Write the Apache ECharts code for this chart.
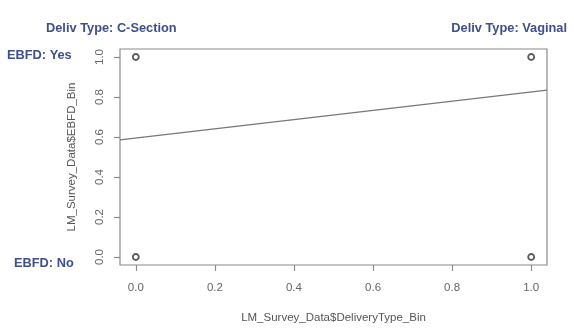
<!DOCTYPE html>
<html><head><meta charset="utf-8">
<script src="https://cdn.jsdelivr.net/npm/echarts@6/dist/echarts.min.js"></script>
<style>html,body{margin:0;padding:0;background:#fff}#c{width:574px;height:333px}</style>
</head><body><div id="c"></div>
<script>
// Data
const xTicks = [0, 0.2, 0.4, 0.6, 0.8, 1.0];
const yTicks = [0, 0.2, 0.4, 0.6, 0.8, 1.0];
const pointsX = [0, 0, 1, 1];
const pointsY = [1, 0, 1, 0];
const fitLineX = [-0.04, 1.04];
const fitLineY = [0.586, 0.834];
const xTitle = 'LM_Survey_Data$DeliveryType_Bin';
const yTitle = 'LM_Survey_Data$EBFD_Bin';
const annotations = ['Deliv Type: C-Section', 'Deliv Type: Vaginal', 'EBFD: Yes', 'EBFD: No'];

const chart = echarts.init(document.getElementById('c'), null, {renderer: 'canvas'});
const font = 'Liberation Sans, Arial, sans-serif';
const blue = '#3f4f8e';
chart.setOption({
  animation: false,
  backgroundColor: '#fff',
  grid: {left: 120, top: 49, right: 27, bottom: 68, show: true, borderColor: '#8a8a8a', borderWidth: 1.2, backgroundColor: 'transparent'},
  xAxis: {
    type: 'value', min: -0.04, max: 1.04,
    name: xTitle, nameLocation: 'middle', nameGap: 47,
    nameTextStyle: {fontFamily: font, fontSize: 11.5, color: '#555'},
    axisLine: {show: false, onZero: false},
    splitLine: {show: false},
    axisTick: {show: true, length: 6, inside: false, customValues: xTicks, lineStyle: {color: '#8a8a8a', width: 1.2}},
    axisLabel: {customValues: xTicks, margin: 17, fontFamily: font, fontSize: 11.5, color: '#666',
      formatter: v => v.toFixed(1)}
  },
  yAxis: {
    type: 'value', min: -0.04, max: 1.04,
    name: yTitle, nameLocation: 'middle', nameGap: 42, nameRotate: 90,
    nameTextStyle: {fontFamily: font, fontSize: 11.5, color: '#555'},
    axisLine: {show: false, onZero: false},
    splitLine: {show: false},
    axisTick: {show: true, length: 6, inside: false, customValues: yTicks, lineStyle: {color: '#8a8a8a', width: 1.2}},
    axisLabel: {customValues: yTicks, rotate: 90, margin: 14, fontFamily: font, fontSize: 11.5, color: '#666',
      formatter: v => v.toFixed(1)}
  },
  series: [
    {
      type: 'line',
      data: fitLineX.map((x, i) => [x, fitLineY[i]]),
      showSymbol: false, silent: true,
      lineStyle: {color: '#777', width: 1.2},
      z: 2
    },
    {
      type: 'scatter',
      data: pointsX.map((x, i) => [x, pointsY[i]]),
      symbol: 'circle', symbolSize: 6,
      itemStyle: {color: '#fff', borderColor: '#333', borderWidth: 1.8},
      z: 3
    }
  ],
  graphic: [
    {type: 'text', left: 46, top: 22, style: {text: annotations[0], font: 'bold 12.8px ' + font, fill: blue}},
    {type: 'text', right: 7, top: 22, style: {text: annotations[1], font: 'bold 12.8px ' + font, fill: blue}},
    {type: 'text', left: 7, top: 49, style: {text: annotations[2], font: 'bold 12.8px ' + font, fill: blue}},
    {type: 'text', left: 14, top: 257, style: {text: annotations[3], font: 'bold 12.8px ' + font, fill: blue}}
  ]
});
</script></body></html>
